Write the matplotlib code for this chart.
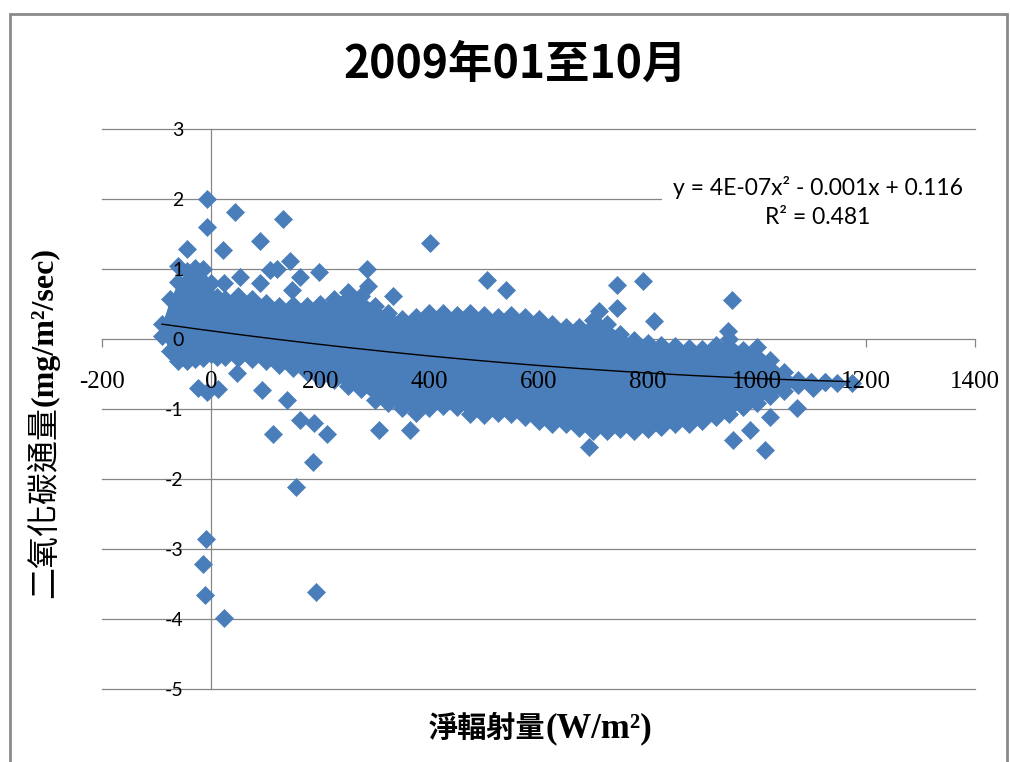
import matplotlib
matplotlib.use('Agg')
import matplotlib.pyplot as plt
from matplotlib.patches import Rectangle
from matplotlib import markers
import numpy as np

plt.rcParams['axes.unicode_minus'] = False

# ---- data ----
# dense core of the scatter cloud: x, upper and lower marker centres
core_x = [-90, -75, -60, -45, -30, -15, 0, 10, 25, 50, 75, 100, 125, 150, 175,
          200, 225, 250, 275, 300, 325, 350, 375, 400, 425, 450, 475, 500, 525,
          550, 575, 600, 625, 650, 675, 700, 725, 750, 775, 800, 825, 850, 875,
          900, 925, 950, 975, 1000, 1025, 1050, 1075, 1100, 1125]
core_hi = [0.22, 0.57, 0.82, 0.97, 1.02, 1.0, 0.8, 0.6, 0.57, 0.62, 0.57, 0.52,
           0.47, 0.49, 0.47, 0.50, 0.57, 0.67, 0.62, 0.47, 0.37, 0.29, 0.32,
           0.37, 0.37, 0.35, 0.37, 0.34, 0.32, 0.35, 0.32, 0.29, 0.22, 0.17,
           0.17, 0.27, 0.22, 0.07, -0.01, -0.05, -0.08, -0.10, -0.13, -0.14,
           -0.08, 0.0, -0.15, -0.12, -0.3, -0.47, -0.58, -0.62, -0.62]
core_lo = [0.05, -0.17, -0.32, -0.32, -0.29, -0.27, -0.22, -0.25, -0.25, -0.27,
           -0.29, -0.32, -0.37, -0.42, -0.47, -0.55, -0.59, -0.67, -0.72, -0.87,
           -0.92, -0.99, -1.05, -0.99, -0.95, -0.97, -1.07, -1.09, -1.05, -1.07,
           -1.12, -1.17, -1.22, -1.22, -1.27, -1.32, -1.32, -1.29, -1.32, -1.29,
           -1.25, -1.22, -1.22, -1.17, -1.12, -1.07, -0.97, -0.92, -0.82, -0.74,
           -0.65, -0.62, -0.62]

# individually visible points
pts_x = [-8, -8, 44, 131, 21, 89, -45, -60, 285, 288, 334, 197, 145, 120, 163,
         148, 53, 90, 23, 108, 401, 505, 541, 744, 791, 812, 744, 710, 954, 948,
         -8, -24, 13, 47, 93, 114, 139, 163, 188, 212, 307, 365, 186, 155, -9,
         -14, -11, 24, 192, 692, 957, 988, 1015, 1025, 1073, 1104, 1147, 1174]
pts_y = [2.0, 1.6, 1.81, 1.72, 1.27, 1.40, 1.28, 1.05, 1.0, 0.76, 0.61, 0.96,
         1.12, 1.0, 0.89, 0.7, 0.89, 0.8, 0.8, 0.98, 1.37, 0.85, 0.70, 0.77,
         0.83, 0.26, 0.45, 0.40, 0.56, 0.12,
         -0.75, -0.7, -0.72, -0.49, -0.73, -1.35, -0.87, -1.16, -1.2, -1.35,
         -1.3, -1.3, -1.76, -2.11, -2.86, -3.22, -3.65, -3.99, -3.62, -1.54,
         -1.44, -1.3, -1.59, -1.11, -0.99, -0.7, -0.63, -0.63]

trend_coef = [3.6e-7, -0.00104, 0.116]
trend_x_range = [-90, 1170]

x_ticks = [-200, 0, 200, 400, 600, 800, 1000, 1200, 1400]
y_ticks = [-5, -4, -3, -2, -1, 0, 1, 2, 3]

title = '2009年01至10月'
xlabel_cjk, xlabel_unit = '淨輻射量', '(W/m²)'
ylabel_cjk, ylabel_unit = '二氧化碳通量', '(mg/m²/sec)'
eq_text = 'y = 4E-07x² - 0.001x + 0.116'
r2_text = 'R² = 0.481'

# ---- drawing ----
W, H = 1010, 762
fig = plt.figure(figsize=(W / 100, H / 100), dpi=100)
ax = fig.add_axes([102 / W, 1 - 689 / H, 873 / W, 560 / H])
ax.set_xlim(-200, 1400)
ax.set_ylim(-5, 3)
ax.set_axisbelow(False)

blue = '#4A7EBB'
gray = '#868686'

for y in y_ticks:
    if y != 0:
        ax.axhline(y, color=gray, lw=0.9, zorder=0.5, clip_on=False)

for s in ['top', 'right']:
    ax.spines[s].set_visible(False)
ax.spines['left'].set_position(('data', 0))
ax.spines['bottom'].set_position(('data', 0))
for s in ['left', 'bottom']:
    ax.spines[s].set_color(gray)
    ax.spines[s].set_linewidth(0.9)
    ax.spines[s].set_zorder(0.6)

ax.plot(x_ticks, [0] * len(x_ticks), ls='none', marker=markers.TICKDOWN,
        ms=6, mew=0.9, color=gray, zorder=0.6, clip_on=False)

ax.set_xticks(x_ticks)
ax.set_yticks(y_ticks)
ax.tick_params(axis='x', length=0, pad=23, labelsize=18)
ax.tick_params(axis='y', length=0, pad=20, labelsize=14)
for lab in ax.get_xticklabels():
    lab.set_fontfamily('Liberation Serif')
for lab in ax.get_yticklabels():
    lab.set_fontfamily('Lato')

# cloud
ax.fill_between(core_x, core_lo, core_hi, color=blue, lw=0, zorder=1.5)
mk = dict(ls='none', marker='D', ms=9.5, color=blue, mec=blue, mew=0.5, zorder=1.6)
ax.plot(core_x, core_hi, **mk)
ax.plot(core_x, core_lo, **mk)
ax.plot(pts_x, pts_y, **mk)

# trend line
tx = np.linspace(trend_x_range[0], trend_x_range[1], 200)
ax.plot(tx, np.polyval(trend_coef, tx), color='black', lw=1.0, zorder=2)

# trend label with white background
ax.add_patch(Rectangle((827, 1.53), 1408 - 827, 0.9, facecolor='white',
                       edgecolor='none', zorder=0.55, clip_on=False))
ax.text(1112, 2.17, eq_text, ha='center', va='center', fontsize=16.5,
        family='Lato', zorder=3)
ax.text(1112, 1.73, r2_text, ha='center', va='center', fontsize=16.5,
        family='Lato', zorder=3)

fig.text(515 / W, 1 - 65 / H, title, ha='center', va='center', fontsize=32,
         weight='bold', family=['Noto Sans CJK TC'])

# axis titles: CJK part followed by the unit in a bold serif face
renderer = fig.canvas.get_renderer()
tx1 = fig.text(429 / W, 1 - 737 / H, xlabel_cjk, ha='left', va='baseline',
               fontsize=21, weight='bold', family=['Noto Sans CJK TC'])
bb = tx1.get_window_extent(renderer)
fig.text(bb.x1 / W, 1 - 737 / H, xlabel_unit, ha='left', va='baseline',
         fontsize=25, weight='bold', family=['Liberation Serif'])

ty1 = fig.text(53 / W, 1 - 598 / H, ylabel_cjk, ha='left', va='baseline',
               rotation=90, rotation_mode='anchor', fontsize=23,
               family=['Noto Sans CJK TC'])
bb = ty1.get_window_extent(renderer)
fig.text(53 / W, bb.y1 / H, ylabel_unit, ha='left', va='baseline',
         rotation=90, rotation_mode='anchor', fontsize=23, weight='bold',
         family=['Liberation Serif'])

fig.add_artist(Rectangle((10 / W, -0.05), (1007 - 10) / W, 1 - 14 / H + 0.05,
                         transform=fig.transFigure, fill=False,
                         edgecolor='#8a8a8a', lw=2))

fig.savefig('out.png', dpi=100)
